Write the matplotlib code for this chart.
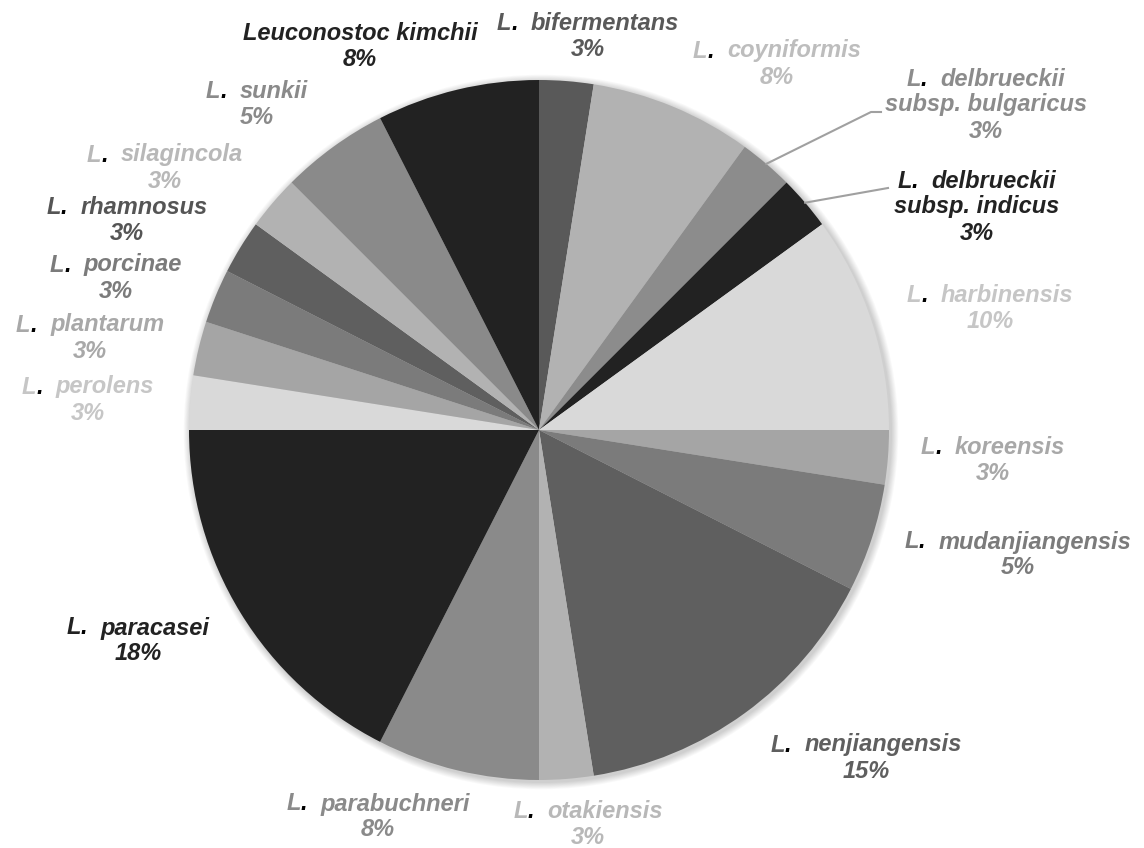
import numpy as np
import matplotlib
matplotlib.use("Agg")
import matplotlib.pyplot as plt

# isolate counts (40 strains in total), clockwise from 12 o'clock
species = ["bifermentans", "coyniformis", "delbrueckii\nsubsp. bulgaricus",
           "delbrueckii\nsubsp. indicus", "harbinensis", "koreensis",
           "mudanjiangensis", "nenjiangensis", "otakiensis", "parabuchneri",
           "paracasei", "perolens", "plantarum", "porcinae", "rhamnosus",
           "silagincola", "sunkii", "Leuconostoc kimchii"]
counts = [1, 3, 1, 1, 4, 1, 2, 6, 1, 3, 7, 1, 1, 1, 1, 1, 2, 3]
wedge_colors = ["#595959", "#b2b2b2", "#8c8c8c", "#222222", "#d9d9d9", "#a5a5a5",
                "#7b7b7b", "#5f5f5f", "#b2b2b2", "#8a8a8a", "#222222", "#d9d9d9",
                "#a5a5a5", "#7b7b7b", "#5f5f5f", "#b2b2b2", "#8a8a8a", "#222222"]
text_colors = ["#595959", "#bdbdbd", "#8c8c8c", "#222222", "#c6c6c6", "#a8a8a8",
               "#7b7b7b", "#5f5f5f", "#b8b8b8", "#8a8a8a", "#222222", "#c6c6c6",
               "#a8a8a8", "#7b7b7b", "#555555", "#b8b8b8", "#8a8a8a", "#222222"]

# label block centres in pixel coordinates (x, y from top) -- layout only
label_pos = [(588, 36), (777, 64), (986, 105), (977, 207), (990, 308), (993, 461),
             (1018, 555), (866, 758), (588, 825), (378, 817), (138, 641), (88, 400),
             (90, 338), (116, 278), (127, 221), (165, 168), (257, 105), (360, 46)]

W, H = 1144, 848
fig = plt.figure(figsize=(W / 100, H / 100), dpi=100)
ax = fig.add_axes([0, 0, 1, 1])

cx, cy, r = 539, H - 430, 350

# soft shadow
for i in range(8):
    ax.add_patch(plt.Circle((cx + 2, cy - 2), r + 1 + i * 0.9, color="black",
                            alpha=0.025, lw=0, zorder=0))

wedges, _ = ax.pie(counts, colors=wedge_colors, startangle=90, counterclock=False,
                   radius=r, center=(cx, cy), frame=True,
                   wedgeprops=dict(linewidth=0))
ax.set_xlim(0, W)
ax.set_ylim(0, H)
ax.set_aspect("equal")
ax.axis("off")

font = dict(fontsize=17, fontweight="bold", fontstyle="italic",
            family="Liberation Sans")
renderer = fig.canvas.get_renderer()


def text_width(s):
    t = ax.text(0, 0, s, **font)
    w = t.get_window_extent(renderer).width
    t.remove()
    return w


LINE = 26
total = sum(counts)
for i, (name, c) in enumerate(zip(species, counts)):
    pct = f"{int(c / total * 100 + 0.5)}%"
    if name.startswith("Leuconostoc"):
        lines = [name, pct]
    else:
        lines = [f"L.  {l}" if k == 0 else l for k, l in enumerate(name.split("\n"))] + [pct]
    x, y = label_pos[i]
    n = len(lines)
    for k, line in enumerate(lines):
        ly = H - (y + (k - (n - 1) / 2) * LINE)
        if line.startswith("L.  "):
            # genus initial, black dot, species name as three pieces
            rest = line[4:]
            w_full = text_width(line)
            x_left = x - w_full / 2
            ax.text(x_left, ly, "L", ha="left", va="center",
                    color=text_colors[i], zorder=5, **font)
            ax.text(x_left + text_width("L.") - text_width("."), ly, ".",
                    ha="left", va="center", color="black", zorder=5, **font)
            ax.text(x_left + w_full - text_width(rest), ly, rest, ha="left",
                    va="center", color=text_colors[i], zorder=5, **font)
        else:
            ax.text(x, ly, line, ha="center", va="center", color=text_colors[i],
                    zorder=5, **font)

# leader lines for the two delbrueckii wedges
for i, end in [(2, [(871, 112), (881, 112)]), (3, [(888, 188)])]:
    w = wedges[i]
    ang = np.deg2rad((w.theta1 + w.theta2) / 2)
    x0 = cx + r * np.cos(ang)
    y0 = cy + r * np.sin(ang)
    xs = [x0] + [p[0] for p in end]
    ys = [y0] + [H - p[1] for p in end]
    ax.plot(xs, ys, color="#a0a0a0", lw=1.5, zorder=4)

fig.savefig("out.png", dpi=100)
